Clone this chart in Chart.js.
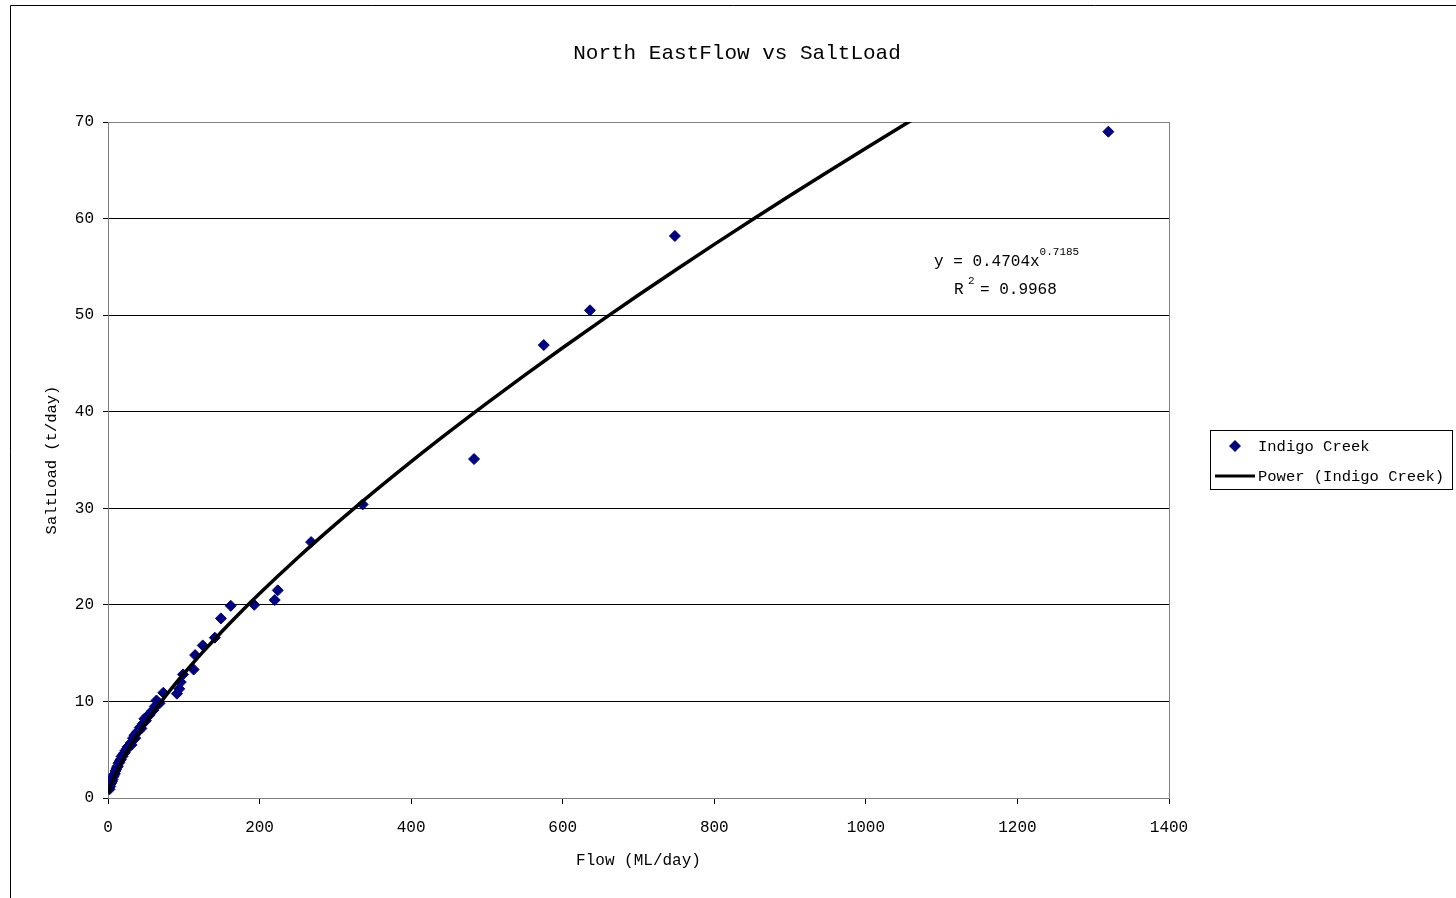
<!DOCTYPE html>
<html>
<head>
<meta charset="utf-8">
<title>North East Flow vs Salt Load</title>
<script src="https://cdn.jsdelivr.net/npm/chart.js@4/dist/chart.umd.min.js"></script>
<style>
  html, body { margin: 0; padding: 0; background: #fff; }
  #wrap { width: 1456px; height: 898px; position: relative; }
</style>
</head>
<body>
<div id="wrap"><canvas id="chart" width="1456" height="898"></canvas></div>
<script>
// Data
const flow = [2, 3, 4, 5, 6, 7, 8, 9, 10, 11, 12, 13, 14, 15, 16, 17, 18, 19, 20,
  22, 23, 25, 26, 28, 30, 31, 33, 35, 36, 38, 40, 42, 44, 46, 48, 50, 52, 55, 58,
  60, 62, 64, 68, 73, 91, 94, 96, 99, 113, 115, 125, 141, 149, 162, 193, 220, 224,
  268, 336, 483, 575, 636, 748, 1320];
const saltLoad = [0.9, 1.2, 1.5, 1.7, 1.9, 2.2, 2.4, 2.5, 2.8, 3.0, 3.2, 3.3, 3.6, 3.7, 3.9, 4.0, 4.3, 4.3, 4.5,
  4.7, 4.9, 5.1, 5.3, 5.4, 5.7, 5.5, 6.2, 6.5, 6.2, 6.8, 6.9, 7.3, 7.2, 7.7, 8.2, 8.0, 8.5, 8.6, 9.0,
  9.1, 9.5, 10.1, 9.8, 10.9, 10.8, 11.3, 12.0, 12.8, 13.3, 14.8, 15.8, 16.6, 18.6, 19.9, 20.0, 20.5, 21.5,
  26.5, 30.4, 35.1, 46.9, 50.5, 58.2, 69.0];

// Power trendline as shown on the chart: y = a * x^b
const trendA = 0.4704;
const trendB = 0.7185;
const trendR2 = '0.9968';
const trendX = [1, 2, 4, 7, 10, 15, 20, 30, 40, 55, 70, 85, 100, 125, 150, 175, 200, 250, 300, 350,
  400, 450, 500, 550, 600, 650, 700, 750, 800, 850, 900, 950, 1000, 1050, 1100, 1150];

const xTicks = [0, 200, 400, 600, 800, 1000, 1200, 1400];
const yTicks = [0, 10, 20, 30, 40, 50, 60, 70];

const seriesName = 'Indigo Creek';
const trendName = 'Power (Indigo Creek)';

const MONO = '"Liberation Mono", "DejaVu Sans Mono", monospace';
const NAVY = '#000080';

const scatterPts = flow.map((x, i) => ({ x, y: saltLoad[i] }));
const trendPts = trendX.map(x => ({ x, y: trendA * Math.pow(x, trendB) }));

// Frame, title, equation and legend drawn like the Excel original
const decor = {
  id: 'decor',
  beforeDraw(chart) {
    const ctx = chart.ctx;
    ctx.save();
    ctx.fillStyle = '#fff';
    ctx.fillRect(0, 0, chart.width, chart.height);
    ctx.strokeStyle = '#000';
    ctx.lineWidth = 1;
    ctx.beginPath();
    ctx.moveTo(10.5, chart.height);
    ctx.lineTo(10.5, 5.5);
    ctx.lineTo(chart.width, 5.5);
    ctx.stroke();
    ctx.restore();
  },
  beforeDatasetsDraw(chart) {
    const { ctx, chartArea: a } = chart;
    ctx.save();
    ctx.strokeStyle = '#808080';
    ctx.lineWidth = 1;
    ctx.strokeRect(Math.round(a.left) + 0.5, Math.round(a.top) + 0.5,
      Math.round(a.right - a.left), Math.round(a.bottom - a.top));
    ctx.restore();
  },
  afterDraw(chart) {
    const ctx = chart.ctx;
    ctx.save();
    ctx.fillStyle = '#000';
    ctx.textBaseline = 'middle';

    // title
    ctx.font = '21px ' + MONO;
    ctx.textAlign = 'center';
    ctx.fillText('North EastFlow vs SaltLoad', 737, 53);

    // trendline equation
    ctx.textAlign = 'left';
    ctx.textBaseline = 'alphabetic';
    ctx.font = '16px ' + MONO;
    const eq = 'y = ' + trendA + 'x';
    ctx.fillText(eq, 934, 266);
    const eqW = ctx.measureText(eq).width;
    ctx.font = '11px ' + MONO;
    ctx.fillText(String(trendB), 934 + eqW, 255);
    ctx.font = '16px ' + MONO;
    ctx.fillText('R', 954, 294);
    ctx.font = '11px ' + MONO;
    ctx.fillText('2', 968, 284);
    ctx.font = '16px ' + MONO;
    ctx.fillText('= ' + trendR2, 980, 294);

    // legend
    ctx.strokeStyle = '#000';
    ctx.lineWidth = 1;
    ctx.strokeRect(1210.5, 430.5, 242, 59);
    ctx.fillStyle = NAVY;
    ctx.beginPath();
    ctx.moveTo(1235, 440);
    ctx.lineTo(1241, 446);
    ctx.lineTo(1235, 452);
    ctx.lineTo(1229, 446);
    ctx.closePath();
    ctx.fill();
    ctx.strokeStyle = '#000';
    ctx.lineWidth = 3;
    ctx.beginPath();
    ctx.moveTo(1215, 476);
    ctx.lineTo(1255, 476);
    ctx.stroke();
    ctx.fillStyle = '#000';
    ctx.font = '15.5px ' + MONO;
    ctx.textBaseline = 'middle';
    ctx.fillText(seriesName, 1258, 447);
    ctx.fillText(trendName, 1258, 477);
    ctx.restore();
  }
};

new Chart(document.getElementById('chart'), {
  type: 'scatter',
  data: {
    datasets: [
      {
        label: seriesName,
        data: scatterPts,
        pointStyle: 'rectRot',
        pointRadius: 5.5,
        pointBackgroundColor: NAVY,
        pointBorderColor: NAVY,
        pointBorderWidth: 1,
        showLine: false,
        order: 1
      },
      {
        label: trendName,
        data: trendPts,
        showLine: true,
        borderColor: '#000',
        borderWidth: 3.5,
        pointRadius: 0,
        tension: 0.4,
        cubicInterpolationMode: 'monotone',
        order: 0
      }
    ]
  },
  options: {
    responsive: false,
    animation: false,
    layout: { padding: { left: 0, top: 122, right: 287, bottom: 0 } },
    plugins: {
      legend: { display: false },
      title: { display: false },
      tooltip: { enabled: false }
    },
    scales: {
      x: {
        type: 'linear',
        min: 0,
        max: 1400,
        afterBuildTicks: s => { s.ticks = xTicks.map(v => ({ value: v })); },
        afterFit: s => { s.height = 100; },
        ticks: {
          color: '#000',
          font: { family: MONO, size: 16 },
          padding: 14,
          maxRotation: 0,
          callback: v => String(v)
        },
        grid: { drawOnChartArea: false, drawTicks: true, tickLength: 6, color: '#000' },
        border: { color: '#000' },
        title: {
          display: true,
          text: 'Flow (ML/day)',
          color: '#000',
          font: { family: MONO, size: 16 },
          padding: { top: 0, bottom: 28 }
        }
      },
      y: {
        min: 0,
        max: 70,
        afterBuildTicks: s => { s.ticks = yTicks.map(v => ({ value: v })); },
        afterFit: s => { s.width = 108; },
        ticks: {
          color: '#000',
          font: { family: MONO, size: 16 },
          padding: 9,
          callback: v => String(v)
        },
        grid: { color: '#000', tickLength: 5 },
        border: { color: '#000' },
        title: {
          display: true,
          text: 'SaltLoad (t/day)',
          color: '#000',
          font: { family: MONO, size: 15.5 },
          padding: { top: 43, bottom: 0 }
        }
      }
    }
  },
  plugins: [decor]
});
</script>
</body>
</html>
